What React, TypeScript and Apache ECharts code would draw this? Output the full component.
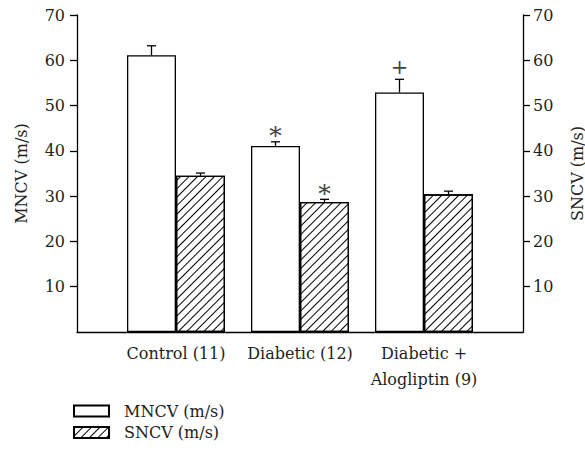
import React, { useEffect, useRef } from "react";
import * as echarts from "echarts";

const categories = ["Control (11)", "Diabetic (12)", "Diabetic +\nAlogliptin (9)"];
const mncvMean = [61.1, 41.1, 52.9];
const mncvSem = [2.1, 0.9, 2.9];
const sncvMean = [34.5, 28.7, 30.4];
const sncvSem = [0.6, 0.6, 0.7];
const mncvMarks = ["", "*", "+"];
const sncvMarks = ["", "*", ""];
const yTicks = [10, 20, 30, 40, 50, 60, 70];

const FONT = "DejaVu Serif";
const TEXT = "#231f20";

function makeErrorSeries(name: string, means: number[], sems: number[], marks: string[], offset: number) {
  return {
    type: "custom",
    name,
    xAxisIndex: 0,
    yAxisIndex: 0,
    z: 5,
    silent: true,
    data: means.map((m, i) => [i, m, sems[i]]),
    renderItem: (params: any, api: any) => {
      const x = api.value(0);
      const m = api.value(1);
      const s = api.value(2);
      const base = api.coord([x, m]);
      const top = api.coord([x, m + s]);
      const cx = base[0] + offset;
      const st = { stroke: "#000", lineWidth: 1.3 };
      const children: any[] = [
        { type: "line", shape: { x1: cx, y1: base[1], x2: cx, y2: top[1] }, style: st },
        { type: "line", shape: { x1: cx - 4.5, y1: top[1], x2: cx + 4.5, y2: top[1] }, style: st },
      ];
      const mark = marks[params.dataIndex];
      if (mark) {
        const isStar = mark === "*";
        children.push({
          type: "text",
          style: {
            text: mark,
            x: cx,
            y: top[1] - (isStar ? 6 : 12),
            align: "center",
            verticalAlign: "middle",
            fontSize: isStar ? 25 : 21,
            fontFamily: FONT,
            fill: "#444",
          },
        });
      }
      return { type: "group", children };
    },
  };
}

export default function App() {
  const ref = useRef<HTMLDivElement>(null);
  useEffect(() => {
    if (!ref.current) return;
    const chart = echarts.init(ref.current, null, { renderer: "svg" });
    const yAxisCommon = {
      type: "value",
      gridIndex: 1,
      min: 0,
      max: 70,
      interval: 10,
      nameLocation: "middle",
      nameRotate: 90,
      nameTextStyle: { fontFamily: FONT, fontSize: 16, color: TEXT },
      axisLine: { show: true, lineStyle: { color: "#000", width: 1.3 } },
      axisTick: { show: true, length: 7, customValues: yTicks, lineStyle: { color: "#000", width: 1.3 } },
      axisLabel: { customValues: yTicks, fontFamily: FONT, fontSize: 16, color: TEXT },
      splitLine: { show: false },
    };
    chart.setOption({
      animation: false,
      backgroundColor: "#fff",
      grid: [
        { left: 114, right: 99, top: 15, bottom: 119, containLabel: false, outerBoundsMode: "none" },
        { left: 77, right: 62, top: 15, bottom: 119, containLabel: false, outerBoundsMode: "none" },
      ],
      legend: {
        orient: "vertical",
        left: 73,
        top: 403,
        padding: 0,
        itemWidth: 35,
        itemHeight: 11,
        itemGap: 5.5,
        icon: "rect",
        data: ["MNCV (m/s)", "SNCV (m/s)"],
        textStyle: { fontFamily: FONT, fontSize: 16, color: TEXT, padding: [0, 0, 0, 10] },
      },
      xAxis: [
        {
          type: "category",
          gridIndex: 0,
          data: categories,
          axisLine: { show: false },
          axisTick: { show: false },
          splitLine: { show: false },
          axisLabel: {
            fontFamily: FONT,
            fontSize: 16,
            color: TEXT,
            lineHeight: 26,
            margin: 8,
            interval: 0,
          },
        },
        {
          type: "value",
          gridIndex: 1,
          min: 0,
          max: 1,
          axisLine: { show: true, onZero: false, lineStyle: { color: "#000", width: 1.3 } },
          axisTick: { show: false },
          axisLabel: { show: false },
          splitLine: { show: false },
        },
      ],
      yAxis: [
        { type: "value", gridIndex: 0, min: 0, max: 70, interval: 10, show: false },
        { ...yAxisCommon, position: "left", name: "MNCV (m/s)", nameGap: 48, axisLabel: { ...yAxisCommon.axisLabel, margin: 12 } },
        { ...yAxisCommon, position: "right", name: "SNCV (m/s)", nameGap: 46, axisLabel: { ...yAxisCommon.axisLabel, margin: 10 } },
      ],
      series: [
        {
          type: "bar",
          name: "MNCV (m/s)",
          xAxisIndex: 0,
          yAxisIndex: 0,
          barWidth: 49,
          barGap: "0%",
          data: mncvMean,
          itemStyle: { color: "#fff", borderColor: "#000", borderWidth: 1.3 },
        },
        {
          type: "bar",
          name: "SNCV (m/s)",
          xAxisIndex: 0,
          yAxisIndex: 0,
          barWidth: 49,
          barGap: "0%",
          data: sncvMean,
          itemStyle: {
            color: "#fff",
            borderColor: "#000",
            borderWidth: 1.3,
            decal: {
              symbol: "rect",
              symbolSize: 1,
              color: "#000",
              backgroundColor: "#fff",
              dashArrayX: [1, 0],
              dashArrayY: [1, 5],
              rotation: -Math.PI / 4,
            },
          },
        },
        makeErrorSeries("mncv-err", mncvMean, mncvSem, mncvMarks, -24.5),
        makeErrorSeries("sncv-err", sncvMean, sncvSem, sncvMarks, 24.5),
      ],
    });
    return () => chart.dispose();
  }, []);
  return <div ref={ref} style={{ position: "fixed", left: 0, top: 0, width: 585, height: 451 }} />;
}
